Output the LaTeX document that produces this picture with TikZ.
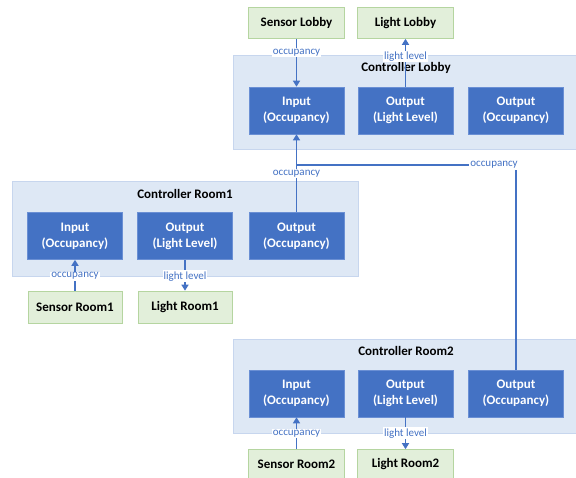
\documentclass[tikz,border=0pt]{standalone}
\usepackage{fontspec}
\setmainfont{Carlito}
\usetikzlibrary{arrows.meta}
\definecolor{contfill}{HTML}{DEE8F5}
\definecolor{boxfill}{HTML}{4472C4}
\definecolor{boxline}{HTML}{6A8FD4}
\definecolor{greenfill}{HTML}{E2EFDA}
\definecolor{greenline}{HTML}{B5D5A0}
\definecolor{linecol}{HTML}{4472C4}
\tikzset{
  cont/.style={draw=contfill!80!boxline, line width=0.3pt, fill=contfill, inner sep=0pt},
  conttitle/.style={font=\fontsize{13}{15}\selectfont\bfseries, text=black},
  bluebox/.style={draw=boxline, line width=0.6pt, fill=boxfill, text=white, font=\fontsize{13}{16}\selectfont\bfseries, align=center, minimum width=95pt, minimum height=47pt, inner sep=0pt},
  greenbox/.style={draw=greenline, line width=0.6pt, fill=greenfill, text=black, font=\fontsize{13}{15}\selectfont\bfseries, align=center, minimum width=96pt, minimum height=31pt, inner sep=0pt},
  conn/.style={draw=linecol, line width=1.4pt, -{Triangle[width=7pt,length=6pt]}},
  plainconn/.style={draw=linecol, line width=1.4pt},
  lbl/.style={fill=white, text=linecol, font=\fontsize{11}{12}\selectfont, inner sep=1pt}
}
\begin{document}
\begin{tikzpicture}[x=1pt,y=-1pt]
\useasboundingbox[fill=white] (0,0) rectangle (576,477);
% containers
\node[cont, minimum width=343pt, minimum height=94pt, anchor=north west] (clobby) at (233,55) {};
\node[cont, minimum width=346pt, minimum height=95pt, anchor=north west] (croom1) at (12,181) {};
\node[cont, minimum width=343pt, minimum height=94pt, anchor=north west] (croom2) at (233,339) {};
\node[conttitle] (tlobby) at (406,68) {Controller Lobby};
\node[conttitle] (troom1) at (185,194) {Controller Room1};
\node[conttitle] (troom2) at (406,351) {Controller Room2};
% lobby boxes
\node[bluebox] (lin) at (296.5,110.5) {Input\\(Occupancy)};
\node[bluebox] (lll) at (405.5,110.5) {Output\\(Light Level)};
\node[bluebox] (loo) at (516,110.5) {Output\\(Occupancy)};
% room1 boxes
\node[bluebox] (r1in) at (75,236) {Input\\(Occupancy)};
\node[bluebox] (r1ll) at (185,236) {Output\\(Light Level)};
\node[bluebox] (r1oo) at (296.5,236) {Output\\(Occupancy)};
% room2 boxes
\node[bluebox] (r2in) at (296.5,393.5) {Input\\(Occupancy)};
\node[bluebox] (r2ll) at (405.5,393.5) {Output\\(Light Level)};
\node[bluebox] (r2oo) at (516,393.5) {Output\\(Occupancy)};
% green boxes
\node[greenbox] (slobby) at (296.5,23) {Sensor Lobby};
\node[greenbox] (llobby) at (405.5,23) {Light Lobby};
\node[greenbox, minimum width=94pt, minimum height=32pt] (sroom1) at (75,307) {Sensor Room1};
\node[greenbox, minimum width=94pt, minimum height=32pt] (lroom1) at (185,307) {Light Room1};
\node[greenbox, minimum height=30pt] (sroom2) at (296.5,464.5) {Sensor Room2};
\node[greenbox, minimum height=30pt] (lroom2) at (405.5,464.5) {Light Room2};
% connectors
\draw[conn] (slobby.south) -- node[lbl, pos=0.29] {occupancy} (lin.north);
\draw[conn] (lll.north) -- node[lbl, pos=0.63] {light level} (llobby.south);
\coordinate (junc) at (296.5,165);
\draw[conn] (r1oo.north) -- node[lbl, pos=0.5] {occupancy} (lin.south);
\draw[plainconn] (r2oo.north) |- node[lbl, pos=0.55] {occupancy} (junc);
\draw[conn] (sroom1.north) -- node[lbl, pos=0.47] {occupancy} (r1in.south);
\draw[conn] (r1ll.south) -- node[lbl, pos=0.53] {light level} (lroom1.north);
\draw[conn] (sroom2.north) -- node[lbl, pos=0.5] {occupancy} (r2in.south);
\draw[conn] (r2ll.south) -- node[lbl, pos=0.5] {light level} (lroom2.north);
\end{tikzpicture}
\end{document}
